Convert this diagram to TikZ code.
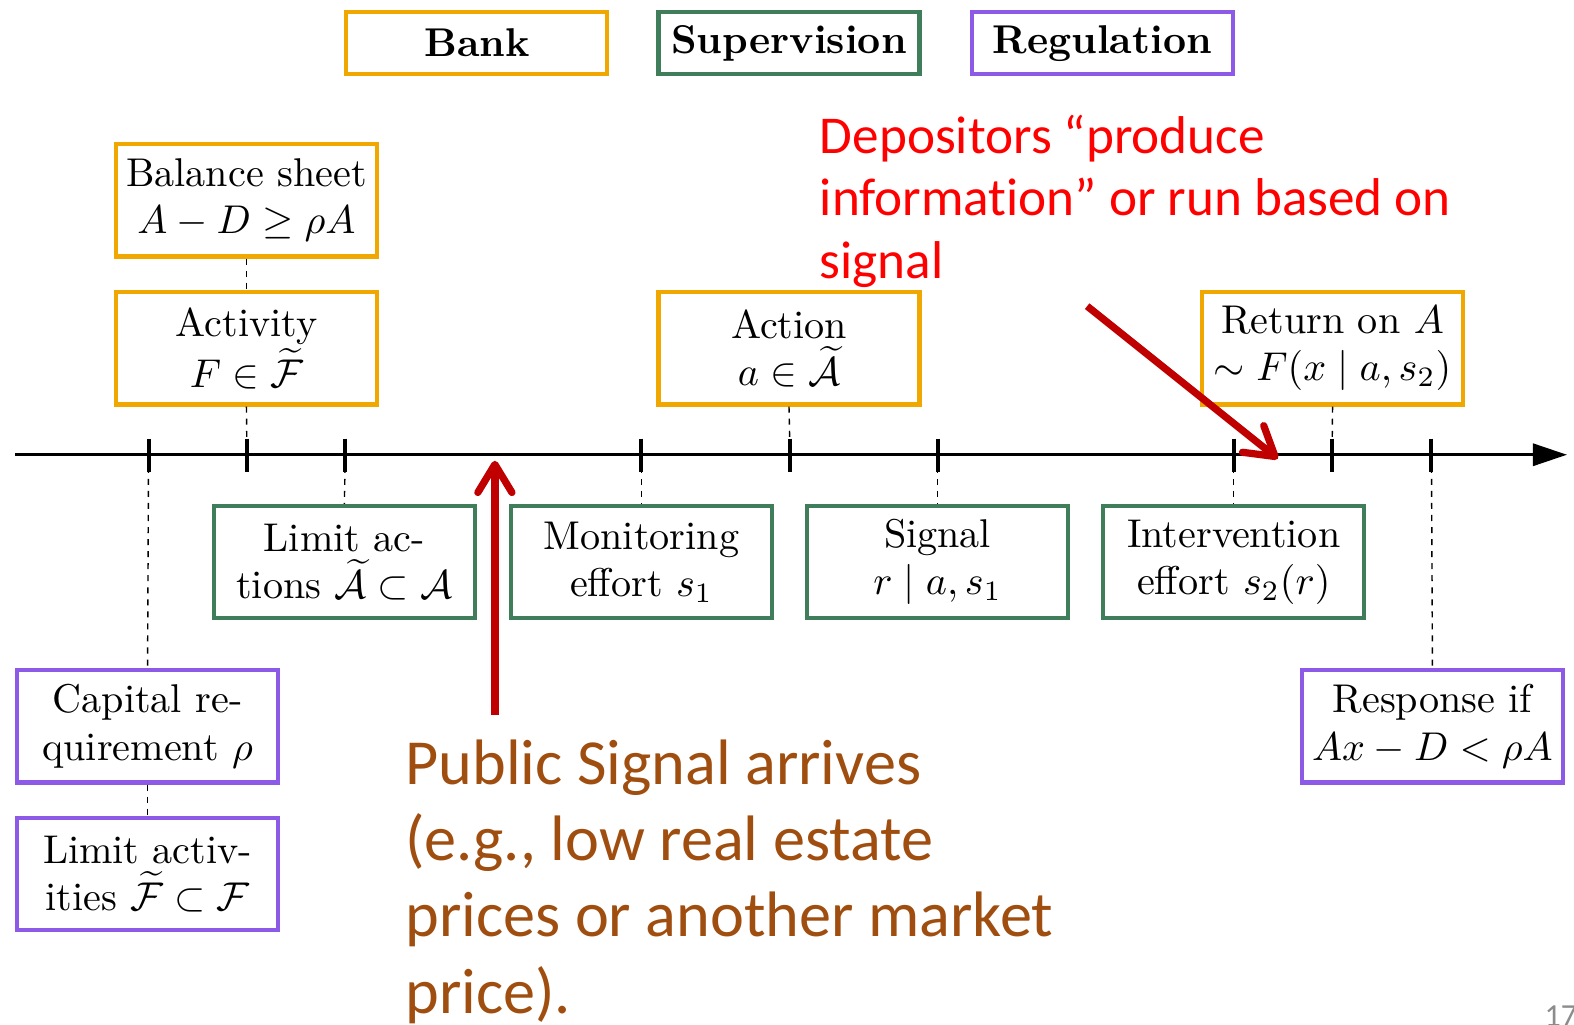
\documentclass[tikz,border=0pt]{standalone}
\usepackage{amsmath,amssymb}
\usepackage{fontspec}
\newfontfamily\calib{Carlito}[Ligatures=NoCommon]
\usetikzlibrary{arrows.meta}
\definecolor{borange}{RGB}{240,168,0}
\definecolor{bgreen}{RGB}{64,125,90}
\definecolor{bpurple}{RGB}{140,90,230}
\definecolor{tred}{RGB}{255,0,0}
\definecolor{dred}{RGB}{192,0,0}
\definecolor{tbrown}{RGB}{160,78,16}
\definecolor{pgray}{RGB}{140,140,140}
\begin{document}
\begin{tikzpicture}[x=0.25pt,y=-0.25pt,
  box/.style={draw, line width=1.05pt, minimum width=65pt, minimum height=28pt,
    inner sep=1pt, align=center, fill=white, font=\fontsize{10}{11.75}\selectfont},
  bankbox/.style={box, draw=borange},
  supbox/.style={box, draw=bgreen},
  regbox/.style={box, draw=bpurple},
  legendbox/.style={minimum height=15.5pt, font=\fontsize{10}{12}\selectfont\bfseries},
  tickline/.style={line width=1pt},
  guide/.style={line width=0.35pt, dash pattern=on 1.5pt off 1.5pt},
  redarrow/.style={dred, line width=1.8pt, -{Straight Barb[length=7pt,width=8.5pt,round]}}
]
\useasboundingbox (0,0) rectangle (1568,1021);

% legend
\node[bankbox, legendbox] (bank) at (475,43) {Bank};
\node[supbox, legendbox] (sup) at (786,43) {Supervision};
\node[regbox, legendbox] (reg) at (1098,43) {Regulation};

% axis
\coordinate (axstart) at (15,453);
\coordinate (axend) at (1561,453);
\draw[line width=0.8pt, -{Triangle[length=8.5pt,width=5.5pt]}] (axstart) -- (axend);
\foreach \n/\x in {1/148,2/246,3/344,4/639,5/787,6/934,7/1229,8/1327,9/1426}{
  \coordinate (t\n) at (\x,453);
  \coordinate (tu\n) at (\x,437);
  \coordinate (td\n) at (\x,470);
  \draw[tickline] (tu\n) -- (td\n);
}

% bank boxes
\node[bankbox] (bal) at (245.5,199.5) {Balance sheet\\ $A-D\geq\rho A$};
\node[bankbox] (act) at (245.5,347) {Activity\\ $F\in\widetilde{\mathcal F}$};
\node[bankbox] (action) at (786,347) {Action\\ $a\in\widetilde{\mathcal A}$};
\node[bankbox] (ret) at (1327.5,347) {Return on $A$\\ $\sim F(x\mid a,s_2)$};

% supervision boxes
\node[supbox] (limact) at (343,560) {Limit ac-\\ tions $\widetilde{\mathcal A}\subset\mathcal A$};
\node[supbox] (mon) at (639,560) {Monitoring\\ effort $s_1$};
\node[supbox] (sig) at (934,560) {Signal\\ $r\mid a,s_1$};
\node[supbox] (int) at (1229,560) {Intervention\\ effort $s_2(r)$};

% regulation boxes
\node[regbox] (cap) at (147,723.5) {Capital re-\\ quirement $\rho$};
\node[regbox] (limactiv) at (147,870.5) {Limit activ-\\ ities $\widetilde{\mathcal F}\subset\mathcal F$};
\node[regbox] (resp) at (1427,723.5) {Response if\\ $Ax-D<\rho A$};

% guides
\draw[guide] (bal.south) -- (act.north);
\draw[guide] (act.south) -- (t2);
\draw[guide] (t1) -- (cap.north);
\draw[guide] (cap.south) -- (limactiv.north);
\draw[guide] (t3) -- (limact.north);
\draw[guide] (t4) -- (mon.north);
\draw[guide] (action.south) -- (t5);
\draw[guide] (t6) -- (sig.north);
\draw[guide] (t7) -- (int.north);
\draw[guide] (ret.south) -- (t8);
\draw[guide] (t9) -- (resp.north);

% red annotation
\node[anchor=north west, inner sep=0pt, align=left, text=tred,
  font=\calib\fontsize{13.25}{15.5}\selectfont] (dep) at (816,114)
  {Depositors “produce\\ information” or run based on\\ signal};
\coordinate (depfrom) at (1083,305);
\coordinate (depto) at (1273,457);
\draw[redarrow] (depfrom) -- (depto);

% brown annotation
\node[anchor=north west, inner sep=0pt, align=left, text=tbrown,
  font=\calib\fontsize{16}{19}\selectfont] (pub) at (403,736)
  {Public Signal arrives\\ (e.g., low real estate\\ prices or another market\\ price).};
\coordinate (pubfrom) at (493,712);
\coordinate (pubto) at (493,459);
\draw[redarrow] (pubfrom) -- (pubto);

% page number
\node[anchor=north west, inner sep=0pt, text=pgray, font=\calib\fontsize{8}{9}\selectfont] (pg) at (1538,1001) {17};
\end{tikzpicture}
\end{document}
